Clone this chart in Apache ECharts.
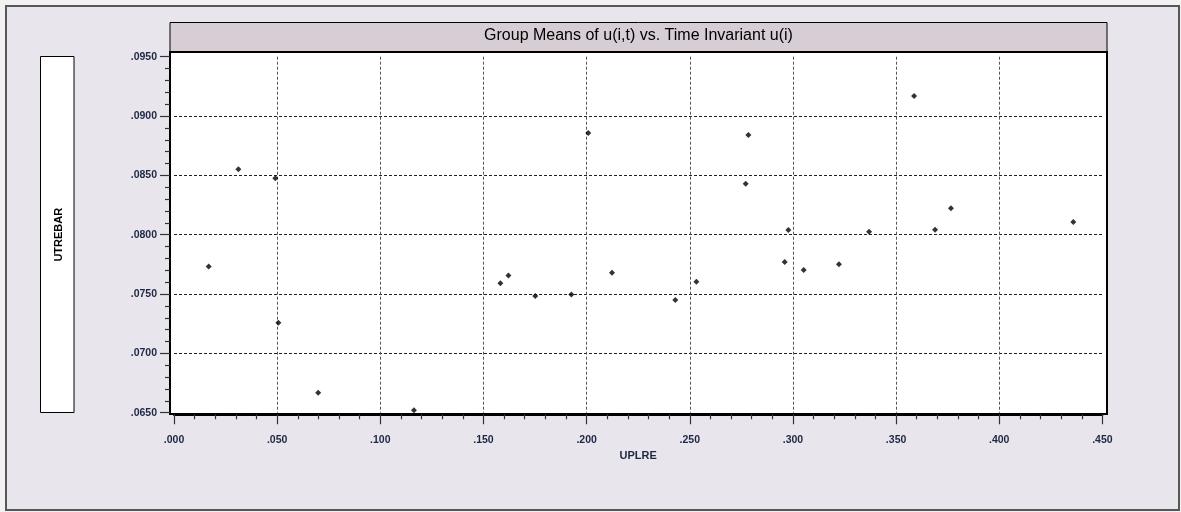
<!DOCTYPE html>
<html>
<head>
<meta charset="utf-8">
<script src="https://cdn.jsdelivr.net/npm/echarts@6/dist/echarts.min.js"></script>
<style>
html,body{margin:0;padding:0;background:#f2f2f2;}
#chart{width:1181px;height:512px;}
</style>
</head>
<body>
<div id="chart"></div>
<script>
// Data
const titleText = 'Group Means of u(i,t) vs. Time Invariant u(i)';
const xName = 'UPLRE';
const yName = 'UTREBAR';
const uplre = [0.0168, 0.0312, 0.0491, 0.0506, 0.0699, 0.1163, 0.1582, 0.1621, 0.1751, 0.1926,
               0.2008, 0.2123, 0.2430, 0.2532, 0.2771, 0.2784, 0.2960, 0.2978, 0.3052, 0.3223,
               0.3369, 0.3587, 0.3689, 0.3766, 0.4359];
const utrebar = [0.07733, 0.08552, 0.08476, 0.07258, 0.06669, 0.06520, 0.07590, 0.07657, 0.07483, 0.07497,
                 0.08856, 0.07680, 0.07449, 0.07604, 0.08429, 0.08840, 0.07770, 0.08039, 0.07703, 0.07750,
                 0.08024, 0.09169, 0.08041, 0.08223, 0.08108];
const xTicks = {min: 0, max: 0.45, step: 0.05};
const yTicks = {min: 0.065, max: 0.095, step: 0.005};

const points = uplre.map((x, i) => [x, utrebar[i]]);
const labelColor = '#1d2742';
const tickColor = '#333';

const chart = echarts.init(document.getElementById('chart'), null, {renderer: 'canvas'});
chart.setOption({
  animation: false,
  backgroundColor: '#f2f2f2',
  title: {
    text: titleText,
    left: 638.5, top: 28, textAlign: 'center', padding: 0,
    textStyle: {fontFamily: "'Liberation Sans', Arial, sans-serif", fontSize: 16, fontWeight: 'normal', color: '#000'}
  },
  graphic: [
    {type: 'rect', z: -5, shape: {x: 6, y: 6, width: 1173, height: 504},
     style: {fill: '#e8e5ed', stroke: '#575757', lineWidth: 2}},
    {type: 'rect', z: -4, shape: {x: 170, y: 22.5, width: 937, height: 30},
     style: {fill: '#d6cdd5', stroke: '#000', lineWidth: 1}},
    {type: 'rect', z: -4, shape: {x: 40.5, y: 56.5, width: 33.5, height: 356},
     style: {fill: '#fff', stroke: '#000', lineWidth: 1}}
  ],
  grid: [
    {left: 170, right: 74, top: 52, bottom: 98, show: true, backgroundColor: '#fff', borderColor: '#000', borderWidth: 2},
    {left: 174, right: 78.6, top: 56.7, bottom: 99.3, show: false}
  ],
  xAxis: [
    {
      type: 'value', gridIndex: 1, min: xTicks.min, max: xTicks.max, interval: xTicks.step,
      offset: 1.6,
      name: xName, nameLocation: 'middle', nameGap: 32,
      nameTextStyle: {fontFamily: "'Liberation Sans Narrow', 'Liberation Sans', Arial, sans-serif", fontSize: 11, fontWeight: 'bold', color: labelColor},
      axisLine: {show: true, onZero: false, lineStyle: {color: '#000', width: 2}},
      axisTick: {show: true, inside: false, length: 10, lineStyle: {color: tickColor, width: 1.2}},
      minorTick: {show: true, splitNumber: 5, length: 5, lineStyle: {color: tickColor, width: 1.2}},
      axisLabel: {margin: 20, fontFamily: "'Liberation Sans', Arial, sans-serif", fontSize: 10.5, fontWeight: 'bold', color: labelColor,
                  formatter: v => v.toFixed(3).replace(/^0/, '')},
      splitLine: {show: true, showMinLine: false, showMaxLine: false, lineStyle: {color: '#555', width: 1, type: [3, 2]}},
      minorSplitLine: {show: false}
    },
    {type: 'value', gridIndex: 0, show: false, min: 0, max: 1}
  ],
  yAxis: [
    {
      type: 'value', gridIndex: 1, min: yTicks.min, max: yTicks.max, interval: yTicks.step,
      offset: 4,
      name: yName, nameLocation: 'middle', nameGap: 106, nameRotate: 90,
      nameTextStyle: {fontFamily: "'Liberation Sans', Arial, sans-serif", fontSize: 11, fontWeight: 'bold', color: '#000'},
      axisLine: {show: true, onZero: false, lineStyle: {color: '#000', width: 2}},
      axisTick: {show: true, inside: false, length: 10, lineStyle: {color: tickColor, width: 1.2}},
      minorTick: {show: true, splitNumber: 5, length: 5, lineStyle: {color: tickColor, width: 1.2}},
      axisLabel: {margin: 13, fontFamily: "'Liberation Sans', Arial, sans-serif", fontSize: 10.5, fontWeight: 'bold', color: labelColor,
                  formatter: v => v.toFixed(4).replace(/^0/, '')},
      splitLine: {show: true, showMinLine: false, showMaxLine: false, lineStyle: {color: '#222', width: 1, type: [3, 2]}}
    },
    {type: 'value', gridIndex: 0, show: false, min: 0, max: 1}
  ],
  series: [{
    type: 'scatter', xAxisIndex: 0, yAxisIndex: 0,
    symbol: 'diamond', symbolSize: 6,
    itemStyle: {color: '#000'},
    data: points
  }]
});
</script>
</body>
</html>
